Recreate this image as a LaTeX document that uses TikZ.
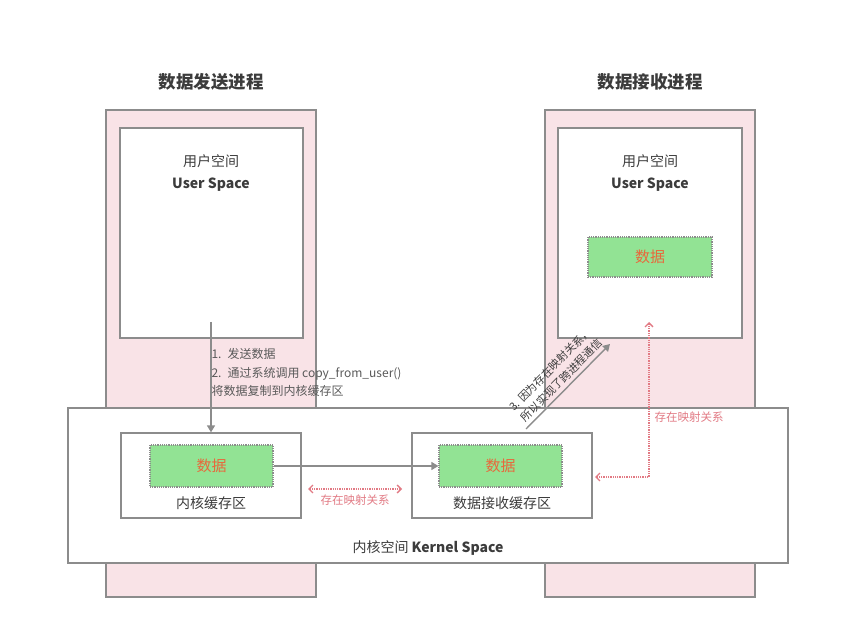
\documentclass[tikz,border=0pt]{standalone}
\usepackage{fontspec}
\setmainfont{Noto Sans CJK SC}
\usetikzlibrary{arrows.meta}

\definecolor{procpink}{HTML}{F9E3E7}
\definecolor{boxgray}{HTML}{8C8C8C}
\definecolor{datagreen}{HTML}{92E394}
\definecolor{dataorange}{HTML}{E8683C}
\definecolor{mappink}{HTML}{E27A84}
\definecolor{textgray}{HTML}{3C3C3C}

\tikzset{
  procbox/.style={draw=boxgray, line width=1.3pt, fill=procpink, inner sep=0pt},
  whitebox/.style={draw=boxgray, line width=1.3pt, fill=white, inner sep=0pt},
  databox/.style={draw=boxgray, line width=1.2pt, densely dotted, fill=datagreen,
    text=dataorange, minimum width=123pt, minimum height=42pt,
    font=\fontsize{15}{18}\selectfont},
  flow/.style={draw=boxgray, line width=1.4pt, -{Triangle[width=8pt,length=7pt]}},
  maplink/.style={draw=mappink, line width=1.3pt, densely dotted,
    {Straight Barb[width=8pt,length=4pt]}-{Straight Barb[width=8pt,length=4pt]}},
  maplabel/.style={text=mappink, font=\fontsize{11.5}{13}\selectfont},
  note/.style={text=textgray!85, font=\fontsize{12}{18.5}\selectfont, align=left}
}

\begin{document}
\begin{tikzpicture}[x=1pt, y=-1pt]
  \useasboundingbox (0,0) rectangle (848,617);
  \pgfmathsetmacro{\sendx}{211}
  \pgfmathsetmacro{\recvx}{650}

  % the two processes
  \node[procbox, minimum width=210pt, minimum height=487pt] (sendproc) at (\sendx,353.5) {};
  \node[procbox, minimum width=210pt, minimum height=487pt] (recvproc) at (\recvx,353.5) {};
  \node[text=textgray, font=\fontsize{17.5}{20}\selectfont\bfseries] (sendtitle) at (\sendx,82) {数据发送进程};
  \node[text=textgray, font=\fontsize{17.5}{20}\selectfont\bfseries] (recvtitle) at (\recvx,82) {数据接收进程};

  % user space
  \node[whitebox, minimum width=183pt, minimum height=210pt] (senduser) at (211.5,233) {};
  \node[whitebox, minimum width=184pt, minimum height=210pt] (recvuser) at (\recvx,233) {};
  \node[text=textgray, align=center, font=\fontsize{14}{22}\selectfont] (sendusertext) at (\sendx,173) {用户空间\\\textbf{User Space}};
  \node[text=textgray, align=center, font=\fontsize{14}{22}\selectfont] (recvusertext) at (\recvx,173) {用户空间\\\textbf{User Space}};
  \node[databox, minimum width=124pt, minimum height=40pt] (recvudata) at (\recvx,257) {数据};

  % kernel space
  \node[whitebox, minimum width=720pt, minimum height=155pt] (kernel) at (428,485.5) {};
  \node[text=textgray, font=\fontsize{14}{16}\selectfont] (kerneltext) at (428,548) {内核空间 \textbf{Kernel Space}};
  \node[whitebox, minimum width=180pt, minimum height=85pt] (sendbuf) at (\sendx,475.5) {};
  \node[whitebox, minimum width=180pt, minimum height=85pt] (recvbuf) at (502,475.5) {};
  \node[databox] (senddata) at (211.5,466) {数据};
  \node[databox] (recvdata) at (500.5,466) {数据};
  \node[text=textgray, font=\fontsize{14}{16}\selectfont] (sendbuftext) at (\sendx,503) {内核缓存区};
  \node[text=textgray, font=\fontsize{14}{16}\selectfont] (recvbuftext) at (502,503) {数据接收缓存区};

  % step 1, 2
  \coordinate (copystart) at (\sendx,322);
  \draw[flow] (copystart) -- (sendbuf.north);
  \node[note, anchor=north west] (copynote) at (208,345) {1.\enspace 发送数据\\2.\enspace 通过系统调用 copy\_from\_user()\\将数据复制到内核缓存区};
  \draw[flow] (senddata.east) -- (recvdata.west);

  % mapping between buffers
  \coordinate (mapa) at (308,489);
  \coordinate (mapb) at (402,489);
  \draw[maplink] (mapa) -- (mapb);
  \node[maplabel] (maptext) at (355,500) {存在映射关系};

  % step 3
  \coordinate (crossstart) at (526,429);
  \coordinate (crossend) at (610,344);
  \draw[flow] (crossstart) -- (crossend)
    node[midway, above=0pt, sloped, align=center, text=textgray,
      font=\fontsize{11}{15.5}\selectfont] (crosstext) {3. 因为存在映射关系，\\所以实现了跨进程通信};

  % mapping to user space
  \coordinate (mapup) at (649,322);
  \coordinate (mapbuf) at (595,477);
  \draw[maplink] (mapup) |- (mapbuf);
  \node[maplabel, anchor=west] (maptext2) at (651,417) {存在映射关系};
\end{tikzpicture}
\end{document}
